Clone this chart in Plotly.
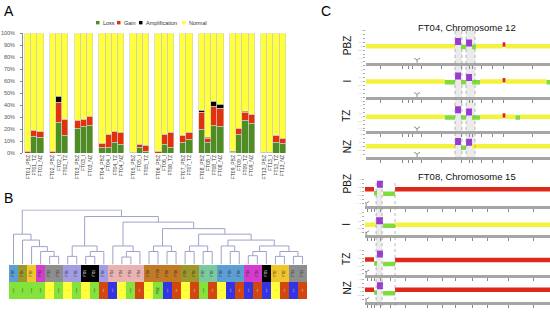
import plotly.graph_objects as go

W, H = 550, 312
def px(x): return x / W
def py(y): return 1 - y / H

# ---------------- Panel A data ----------------
sample_groups = ["FT01", "FT02", "FT03", "FT04", "FT05", "FT06", "FT07", "FT08", "FT09", "FT13"]
group_zones = [["PBZ", "TZ", "NZ"], ["PBZ", "I", "TZ"], ["PBZ", "I", "NZ"], ["PBZ", "I", "TZ", "NZ"],
               ["PBZ", "I", "TZ"], ["PBZ", "I", "TZ"], ["PBZ", "TZ"], ["PBZ", "I", "TZ", "NZ"],
               ["PBZ", "I", "TZ", "NZ"], ["PBZ", "I", "TZ", "NZ"]]
loss_pct = [0, 14, 13, 0, 26, 15, 21, 22.5, 23.5, 4.5, 5, 8.5, 7.5, 0.8, 4.5, 1.5, 0, 7, 5,
            9, 11, 19.5, 9, 23, 22.5, 0.3, 16, 27, 25, 0, 0, 9, 8]
gain_pct = [1.0, 5, 5.5, 1.2, 16, 13.5, 6, 6, 7, 3.5, 11, 10, 10, 0, 2.5, 4.5, 1.0, 9, 12.5,
            6, 6, 14.5, 3.5, 16, 14.5, 0.4, 5, 7, 7, 0.8, 0.8, 5.5, 4.5]
amp_pct = [0, 0, 0, 0, 5, 0, 0, 0, 0, 0, 0, 0, 0, 0, 0.3, 0, 0, 0, 0,
           0, 0, 1.5, 0.3, 4.5, 4, 0.5, 0, 0.5, 0.5, 0, 0, 0, 0]
series_names = ["Loss", "Gain", "Amplification", "Normal"]
series_colors = ["#4d8d21", "#e5300e", "#000000", "#ffff3c"]
pct_ticks = [0, 10, 20, 30, 40, 50, 60, 70, 80, 90, 100]

# ---------------- Panel B data ----------------
leaf_samples = ["FT09", "FT06", "FT02", "FT03", "FT13", "FT13", "FT05", "FT05", "FT01", "FT01", "FT05",
                "FT04", "FT04", "FT04", "FT04", "FT08", "FT08", "FT08", "FT08", "FT06", "FT06",
                "FT07", "FT07", "FT09", "FT09", "FT09", "FT03", "FT03", "FT01", "FT02", "FT02", "FT13", "FT13"]
leaf_zones = ["PBZ", "PBZ", "PBZ", "PBZ", "I", "PBZ", "I", "PBZ", "I", "PBZ", "TZ",
              "NZ", "I", "PBZ", "TZ", "I", "PBZ", "NZ", "TZ", "I", "TZ",
              "PBZ", "TZ", "I", "NZ", "TZ", "NZ", "TZ", "NZ", "I", "TZ", "NZ", "TZ"]
sample_colors = {"FT01": "#000000", "FT02": "#f1c52e", "FT03": "#d53ccd", "FT04": "#e9b3b1",
                 "FT05": "#a29ce2", "FT06": "#9d982c", "FT07": "#7cc9a0", "FT08": "#c27a26",
                 "FT09": "#5c9fd4", "FT13": "#8e8e8e"}
zone_colors = {"PBZ": "#84e23c", "I": "#ffff3c", "TZ": "#d2460f", "NZ": "#3434e2"}
# merges: (left, right, height); ids >= 33 are earlier merges
linkage = [(4, 5, 0.15), (3, 33, 0.24), (2, 34, 0.329), (1, 35, 0.449), (0, 36, 0.557),
           (6, 7, 0.15), (8, 9, 0.15), (39, 10, 0.24), (38, 40, 0.341),
           (12, 13, 0.138), (42, 14, 0.24), (11, 43, 0.341),
           (15, 16, 0.24), (17, 18, 0.24), (45, 46, 0.341),
           (19, 20, 0.24), (21, 22, 0.24), (48, 49, 0.341),
           (24, 25, 0.24), (23, 51, 0.341),
           (26, 27, 0.162), (53, 28, 0.24), (29, 30, 0.15), (31, 32, 0.15), (55, 56, 0.24),
           (54, 57, 0.341), (52, 58, 0.449), (50, 59, 0.557), (47, 60, 0.659),
           (44, 61, 0.778), (41, 62, 0.88), (37, 63, 1.0)]

# ---------------- Panel C data ----------------
state_colors = {"N": "#f3f33e", "L": "#7fdc3c", "G": "#e0281a", "P": "#9b3ad2"}
track_names = ["PBZ", "I", "TZ", "NZ"]
ft04_pbz = [(0, 38.7, 0, "N"), (38.7, 41.3, 0.6, "P"), (41.3, 43.5, -0.1, "L"), (43.5, 46.1, 0.4, "P"),
            (46.1, 47.8, -0.1, "L"), (47.8, 59.4, 0, "N"), (59.4, 60.6, 0.2, "G"), (60.6, 80, 0, "N")]
ft04_i = [(0, 34.3, 0, "N"), (34.3, 38.7, -0.1, "L"), (38.7, 41.3, 0.7, "P"), (41.3, 43.5, -0.1, "L"),
          (43.5, 46.1, 0.5, "P"), (46.1, 49.6, -0.1, "L"), (49.6, 59.4, 0, "N"), (59.4, 60.6, 0.15, "G"),
          (60.6, 78.5, 0, "N"), (78.5, 80, -0.1, "L")]
ft04_tz = [(0, 34.3, 0, "N"), (34.3, 38.7, -0.1, "L"), (38.7, 41.3, 0.9, "P"), (41.3, 43.5, -0.1, "L"),
           (43.5, 46.1, 0.6, "P"), (46.1, 49.6, -0.1, "L"), (49.6, 59.4, 0, "N"), (59.4, 60.6, 0.15, "G"),
           (60.6, 65, 0, "N"), (65, 67, -0.1, "L"), (67, 80, 0, "N")]
ft04_nz = [(0, 38.7, 0, "N"), (38.7, 41.3, 0.6, "P"), (41.3, 43.5, -0.2, "L"), (43.5, 46.1, 0.5, "P"),
           (46.1, 80, 0, "N")]
ft08_pbz = [(0, 3.9, 0.25, "G"), (3.9, 5.2, -0.25, "L"), (5.2, 7.8, 0.9, "P"), (7.8, 13, -0.3, "L"),
            (13, 80, 0.25, "G")]
ft08_i = [(0, 4.8, 0, "N"), (4.8, 7.8, 0.5, "P"), (7.8, 13, -0.15, "L"), (13, 80, 0, "N")]
ft08_tz = [(0, 3.9, 0.3, "G"), (3.9, 5.2, -0.2, "L"), (5.2, 7.8, 1.0, "P"), (7.8, 13, -0.25, "L"),
           (13, 80, 0.25, "G")]
ft08_nz = [(0, 3.9, 0.2, "G"), (3.9, 5.2, -0.15, "L"), (5.2, 7.8, 0.7, "P"), (7.8, 13, -0.25, "L"),
           (13, 80, 0.2, "G")]
chr12_marks = [6.1, 15.7, 18.3, 20.4, 24.3, 33, 41.7, 45.2, 46.5, 50.4, 55.2, 59.6, 72.2]
chr15_marks = [0.9, 2.6, 4.3, 6.5, 10.9, 17.4, 27, 33.5, 39.1, 46.5, 53, 62.2, 73]
chr12_regions = [(38.7, 41.7), (43.5, 47.4)]
chr12_breaks = []
chr15_regions = [(4.8, 7.4)]
chr15_breaks = [13.0]
chr12_centromere = 22.2
chr15_centromere = 0.5

FONT = "Liberation Sans, Arial, sans-serif"
fig = go.Figure()
layout = {}
shapes, annotations = [], []

# ================= Panel A =================
a_pos, a_labels = [], []
slot = 0
for g, zones in zip(sample_groups, group_zones):
    for z in zones:
        a_pos.append(slot)
        a_labels.append(f"{g}_{z}")
        slot += 1
    slot += 1
normal_pct = [100 - l - g - a for l, g, a in zip(loss_pct, gain_pct, amp_pct)]
for name, color, vals in zip(series_names, series_colors, [loss_pct, gain_pct, amp_pct, normal_pct]):
    fig.add_trace(go.Bar(x=a_pos, y=[v / 100 for v in vals], width=1, name=name, showlegend=False,
                         marker=dict(color=color, line=dict(color="#cacaca", width=0.6)),
                         xaxis="x", yaxis="y", hoverinfo="skip"))
layout["xaxis"] = dict(domain=[px(23), px(292)], range=[-0.8, slot - 0.5], anchor="y",
                       tickvals=a_pos, ticktext=a_labels, tickangle=-90,
                       tickfont=dict(size=5, color="#333333", family=FONT), ticks="",
                       showgrid=False, zeroline=False, showline=False)
layout["yaxis"] = dict(domain=[py(153), py(31)], range=[0, 1], anchor="x",
                       tickvals=[t / 100 for t in pct_ticks], ticktext=[f"{t}%" for t in pct_ticks],
                       tickfont=dict(size=5.5, color="#555555", family=FONT), ticks="outside",
                       ticklen=2, tickcolor="#888888", showline=True, linecolor="#888888", linewidth=0.8,
                       showgrid=False, zeroline=False, ticklabelstandoff=4)
# custom compact legend
legend_x = [96, 117, 139, 182]
for name, color, lx in zip(series_names, series_colors, legend_x):
    shapes.append(dict(type="rect", xref="paper", yref="paper", x0=px(lx), x1=px(lx + 3.5),
                       y0=py(21.8), y1=py(18.3), fillcolor=color, line=dict(width=0)))
    annotations.append(dict(text=name, x=px(lx + 4.5), y=py(20), xref="paper", yref="paper",
                            xanchor="left", yanchor="middle", showarrow=False,
                            font=dict(size=5.5, color="#333333", family=FONT)))

# ================= Panel B =================
n = len(leaf_samples)
node_x = [i + 0.5 for i in range(n)]
node_h = [0.0] * n
dx, dy = [], []
for a, b, h in linkage:
    dx += [node_x[a], node_x[a], node_x[b], node_x[b], None]
    dy += [node_h[a], h, h, node_h[b], None]
    node_x.append((node_x[a] + node_x[b]) / 2)
    node_h.append(h)
fig.add_trace(go.Scatter(x=dx, y=dy, mode="lines", line=dict(color="#9ea2c9", width=1),
                         xaxis="x2", yaxis="y2", showlegend=False, hoverinfo="skip"))
layout["xaxis2"] = dict(domain=[px(9), px(307)], range=[0, n], anchor="y2", visible=False)
layout["yaxis2"] = dict(domain=[py(266.7), py(210.5)], range=[0, 1.01], anchor="x2", visible=False)

leaf_x = [i + 0.5 for i in range(n)]
fig.add_trace(go.Bar(x=leaf_x, y=[1] * n, width=1, text=leaf_zones, textangle=-90,
                     textposition="inside", insidetextanchor="middle",
                     textfont=dict(size=4.2, family=FONT,
                                   color=["#ffffff" if z in ("NZ", "TZ") else "#222222" for z in leaf_zones]),
                     marker=dict(color=[zone_colors[z] for z in leaf_zones], line=dict(width=0)),
                     xaxis="x3", yaxis="y3", showlegend=False, hoverinfo="skip"))
fig.add_trace(go.Bar(x=leaf_x, y=[1] * n, width=1, text=leaf_samples, textangle=-90,
                     textposition="inside", insidetextanchor="middle",
                     textfont=dict(size=3.6, family=FONT,
                                   color=["#ffffff" if s == "FT01" else "#222222" for s in leaf_samples]),
                     marker=dict(color=[sample_colors[s] for s in leaf_samples], line=dict(width=0)),
                     xaxis="x3", yaxis="y3", showlegend=False, hoverinfo="skip"))
layout["xaxis3"] = dict(domain=[px(9), px(307)], range=[0, n], anchor="y3", visible=False)
layout["yaxis3"] = dict(domain=[py(302), py(267)], range=[0, 2], anchor="x3", visible=False)

# ================= Panel C =================
def add_track(ax, segments, yc, yb, ytop, x0px, marks, centromere):
    for st, col in state_colors.items():
        xs, ys = [], []
        for s, e, lv, sst in segments:
            if sst == st:
                xs += [s, e, None]
                ys += [lv, lv, None]
        if xs:
            fig.add_trace(go.Scatter(x=xs, y=ys, mode="lines",
                                     line=dict(color=col, width=7 if st == "P" else 4.5),
                                     xaxis=f"x{ax}", yaxis=f"y{ax}", showlegend=False, hoverinfo="skip"))
    lo = -(yb - yc) / 8
    fig.add_trace(go.Scatter(x=[centromere], y=[lo + 0.35], mode="markers",
                             marker=dict(symbol="y-down", size=5, line=dict(width=1, color="#8a8a8a")),
                             xaxis=f"x{ax}", yaxis=f"y{ax}", showlegend=False, hoverinfo="skip"))
    layout[f"xaxis{ax}"] = dict(domain=[px(x0px), 1], range=[0, 80], anchor=f"y{ax}",
                                showline=True, linecolor="#a6a6a6", linewidth=3, ticks="outside",
                                tickvals=marks, ticklen=3, tickwidth=0.8, tickcolor="#8a8a8a",
                                showticklabels=False, showgrid=False, zeroline=False)
    layout[f"yaxis{ax}"] = dict(domain=[py(yb), py(ytop)], range=[lo, (yc - ytop) / 8], anchor=f"x{ax}",
                                ticks="outside", ticklen=2, tickcolor="#aaaaaa", dtick=0.5,
                                tickfont=dict(size=2.5, color="#aaaaaa"), showgrid=False,
                                zeroline=False, showline=False)

top_yc, top_yb = [44, 80, 116, 146], [61, 96, 131, 157]
bot_yc, bot_yb = [192, 226, 264, 294], [207, 237, 277, 305]
for k, seg in enumerate([ft04_pbz, ft04_i, ft04_tz, ft04_nz]):
    add_track(4 + k, seg, top_yc[k], top_yb[k], top_yc[k] - 16, 366, chr12_marks, chr12_centromere)
for k, seg in enumerate([ft08_pbz, ft08_i, ft08_tz, ft08_nz]):
    add_track(8 + k, seg, bot_yc[k], bot_yb[k], bot_yc[k] - 12, 365, chr15_marks, chr15_centromere)

def vline(ax, xv, y0, y1):
    shapes.append(dict(type="line", xref=f"x{ax}", yref="paper", x0=xv, x1=xv, y0=py(y1), y1=py(y0),
                       line=dict(color="#9a9a9a", width=0.7, dash="dot")))

def regions(ax, regs, breaks, y0, y1):
    for s, e in regs:
        shapes.append(dict(type="rect", xref=f"x{ax}", yref="paper", x0=s, x1=e, y0=py(y1), y1=py(y0),
                           fillcolor="rgba(190,190,190,0.3)", line=dict(width=0), layer="below"))
        vline(ax, s, y0, y1)
        vline(ax, e, y0, y1)
    for b in breaks:
        vline(ax, b, y0, y1)
regions(4, chr12_regions, chr12_breaks, 28, 160)
regions(8, chr15_regions, chr15_breaks, 181, 309)

track_label_y_top = [44, 80, 115, 147]
track_label_y_bot = [185, 226, 261, 291]
for name, ty in zip(track_names + track_names, track_label_y_top + track_label_y_bot):
    annotations.append(dict(text=name, x=px(347), y=py(ty), xref="paper", yref="paper", textangle=-90,
                            showarrow=False, xanchor="center", yanchor="middle",
                            font=dict(size=10, color="#111111", family=FONT)))
for title, ty in [("FT04, Chromosome 12", 25), ("FT08, Chromosome 15", 177)]:
    annotations.append(dict(text=title, x=px(467), y=py(ty), xref="paper", yref="paper", showarrow=False,
                            xanchor="center", yanchor="middle", font=dict(size=9.5, color="#111111", family=FONT)))

for letter, lx, ly in [("A", 9, 8), ("B", 8, 199), ("C", 326, 8)]:
    annotations.append(dict(text=letter, x=px(lx), y=py(ly), xref="paper", yref="paper", showarrow=False,
                            xanchor="center", yanchor="middle", font=dict(size=14, color="#000000", family=FONT)))

fig.update_layout(width=W, height=H, margin=dict(l=0, r=0, t=0, b=0), paper_bgcolor="white",
                  plot_bgcolor="rgba(0,0,0,0)", barmode="stack", bargap=0, showlegend=False,
                  shapes=shapes, annotations=annotations, **layout)
fig.write_html("out.html", config={"displayModeBar": False},
               post_script="document.body.style.margin='0px';document.body.style.overflow='hidden';")
